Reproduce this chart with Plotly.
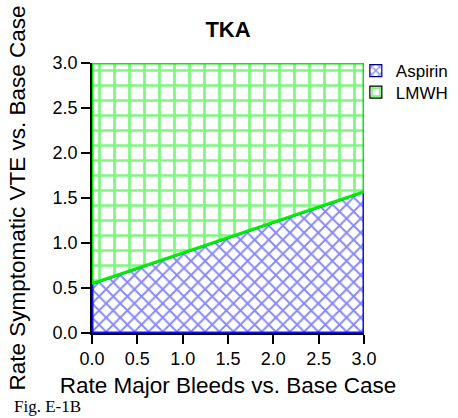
import plotly.graph_objects as go

# Threshold line (boundary between regions)
x_vals = [0.0, 3.0]
boundary = [0.55, 1.57]
axis_max = 3.0
tick_vals = [0.0, 0.5, 1.0, 1.5, 2.0, 2.5, 3.0]
tick_text = ["0.0", "0.5", "1.0", "1.5", "2.0", "2.5", "3.0"]
series_names = ["Aspirin", "LMWH"]

BLUE = "#1010ff"
GREEN = "#00f000"
blue_pat = dict(shape="x", fgcolor="#1010ff", bgcolor="white", size=10, solidity=0.35)
green_pat = dict(shape="+", fgcolor=GREEN, bgcolor="white", size=15, solidity=0.33)

fig = go.Figure()

# Aspirin region (below boundary)
fig.add_trace(go.Scatter(
    x=[x_vals[0], x_vals[1], x_vals[1], x_vals[0], x_vals[0]],
    y=[0, 0, boundary[1], boundary[0], 0],
    fill="toself", mode="lines", name=series_names[0], showlegend=False,
    line=dict(color=BLUE, width=3),
    fillcolor="white", fillpattern=blue_pat,
))
# LMWH region (above boundary)
fig.add_trace(go.Scatter(
    x=[x_vals[0], x_vals[1], x_vals[1], x_vals[0], x_vals[0]],
    y=[boundary[0], boundary[1], axis_max, axis_max, boundary[0]],
    fill="toself", mode="lines", name=series_names[1], showlegend=False,
    line=dict(color=GREEN, width=3),
    fillcolor="white", fillpattern=green_pat,
))
# Legend entries (square patterned swatches), one legend box each
fig.add_trace(go.Bar(x=[-10], y=[0], name=series_names[0], legend="legend",
                     marker=dict(color="white", pattern=dict(shape="x", fgcolor=BLUE, bgcolor="white", size=7, solidity=0.4),
                                 line=dict(color="#000080", width=1.2))))
fig.add_trace(go.Bar(x=[-10], y=[0], name=series_names[1], legend="legend2",
                     marker=dict(color="white", pattern=dict(shape="+", fgcolor=GREEN, bgcolor="white", size=12, solidity=0.4),
                                 line=dict(color="black", width=1.2))))

axis_common = dict(
    range=[0, axis_max], tickvals=tick_vals, ticktext=tick_text,
    showgrid=False, zeroline=False, showline=True, linecolor="black", linewidth=1.5,
    ticks="outside", ticklen=9, tickwidth=1.5, tickcolor="black",
    tickfont=dict(family="Liberation Sans, Arial", size=18, color="black"),
    fixedrange=True, automargin=False, layer="below traces",
)
legend_common = dict(x=0.97, xanchor="left", yanchor="top", bgcolor="rgba(0,0,0,0)",
                     font=dict(family="Liberation Sans, Arial", size=17, color="black"), itemwidth=30)

fig.update_layout(
    width=458, height=418,
    margin=dict(l=92, r=94, t=63, b=85, autoexpand=False),
    paper_bgcolor="white", plot_bgcolor="white",
    title=dict(text="<b>TKA</b>", x=0.5, xref="paper", xanchor="center",
               y=1 - 29 / 418, yref="container", yanchor="middle",
               font=dict(family="Liberation Sans, Arial", size=22, color="black")),
    xaxis=dict(**axis_common, title=dict(text="Rate Major Bleeds vs. Base Case", standoff=9,
               font=dict(family="Liberation Sans, Arial", size=22.5, color="black"))),
    yaxis=dict(**axis_common, title=dict(text="Rate Symptomatic VTE vs. Base Case", standoff=21,
               font=dict(family="Liberation Sans, Arial", size=22.5, color="black"))),
    legend=dict(**legend_common, y=1.037),
    legend2=dict(**legend_common, y=0.957),
    showlegend=True,
    annotations=[dict(text="Fig. E-1B", xref="paper", yref="paper", x=-80 / 272, y=-73 / 270,
                      xanchor="left", yanchor="middle", showarrow=False,
                      font=dict(family="Liberation Serif, Times New Roman", size=17, color="black"))],
)

fig.write_html("out.html", config={"displayModeBar": False},
               post_script="document.body.style.margin='0';")
